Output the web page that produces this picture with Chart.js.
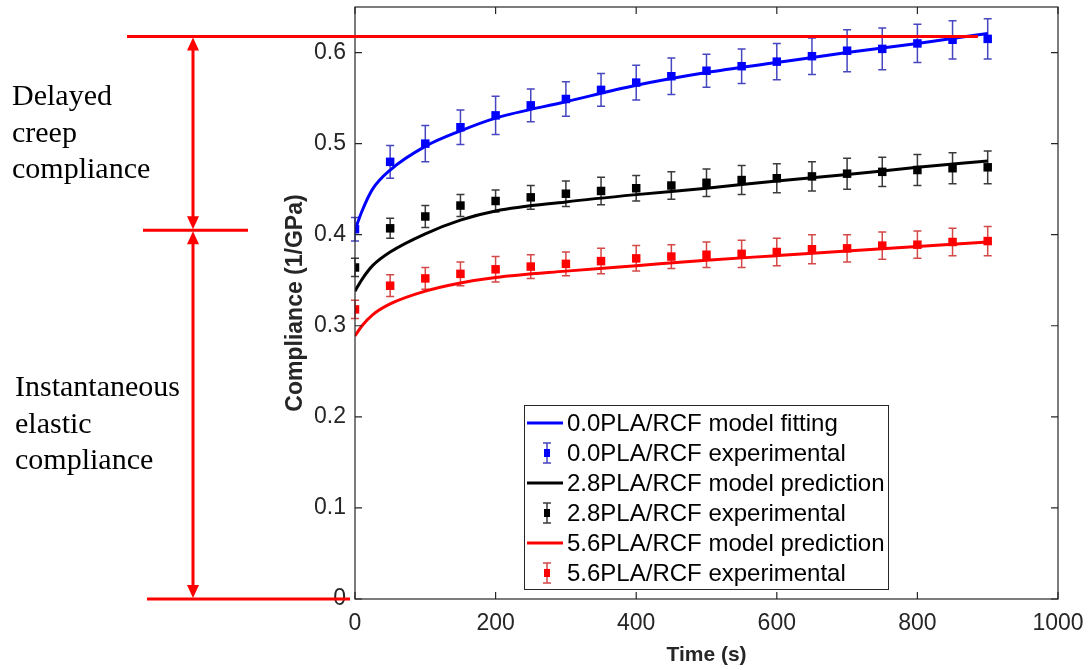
<!DOCTYPE html>
<html>
<head>
<meta charset="utf-8">
<script src="https://cdn.jsdelivr.net/npm/chart.js@4.4.1/dist/chart.umd.min.js"></script>
<style>
    body { margin: 0; background: #fff; }
    #wrap { width: 1089px; height: 670px; }
</style>
</head>
<body>
<div id="wrap"><canvas id="creepChart" width="1089" height="670"></canvas></div>
<script>
// Experimental time points (s)
const expTime = [0, 50, 100, 150, 200, 250, 300, 350, 400, 450, 500, 550, 600, 650, 700, 750, 800, 850, 900];

const blueExp = [0.406, 0.480, 0.500, 0.518, 0.531, 0.542, 0.549, 0.559, 0.567, 0.574, 0.580, 0.585, 0.590, 0.596, 0.602, 0.604, 0.610, 0.614, 0.615];
const blueErr = [0.013, 0.018, 0.020, 0.019, 0.021, 0.018, 0.019, 0.018, 0.019, 0.020, 0.018, 0.019, 0.020, 0.020, 0.023, 0.023, 0.021, 0.021, 0.022];
const blackExp = [0.364, 0.407, 0.420, 0.432, 0.437, 0.441, 0.445, 0.448, 0.451, 0.454, 0.457, 0.460, 0.462, 0.464, 0.467, 0.469, 0.471, 0.473, 0.474];
const blackErr = [0.010, 0.011, 0.012, 0.012, 0.012, 0.013, 0.014, 0.015, 0.014, 0.015, 0.015, 0.016, 0.016, 0.016, 0.017, 0.016, 0.017, 0.017, 0.018];
const redExp = [0.318, 0.344, 0.352, 0.357, 0.362, 0.365, 0.368, 0.371, 0.374, 0.376, 0.378, 0.379, 0.381, 0.384, 0.385, 0.388, 0.389, 0.392, 0.393];
const redErr = [0.010, 0.012, 0.012, 0.013, 0.014, 0.013, 0.013, 0.014, 0.014, 0.013, 0.014, 0.015, 0.015, 0.016, 0.015, 0.015, 0.015, 0.015, 0.016];

// Model curves
const modelTime = [0, 10, 25, 50, 100, 150, 200, 300, 400, 500, 600, 700, 800, 900];
const blueModel = [0.405, 0.426, 0.450, 0.471, 0.497, 0.514, 0.528, 0.546, 0.564, 0.578, 0.589, 0.600, 0.610, 0.621];
const blackModel = [0.338, 0.351, 0.366, 0.381, 0.401, 0.416, 0.426, 0.436, 0.444, 0.451, 0.459, 0.466, 0.474, 0.481];
const redModel = [0.289, 0.300, 0.312, 0.324, 0.338, 0.347, 0.353, 0.360, 0.366, 0.372, 0.377, 0.382, 0.387, 0.392];

const seriesLabels = [
    '0.0PLA/RCF model fitting', '0.0PLA/RCF experimental',
    '2.8PLA/RCF model prediction', '2.8PLA/RCF experimental',
    '5.6PLA/RCF model prediction', '5.6PLA/RCF experimental'
];

// Annotation levels on the compliance axis
const delayedTop = 0.6176;
const instantTop = 0.405;
const annotationEndTime = 886;

const axisColor = '#262626';

function pts(xs, ys) {
    return xs.map((x, i) => ({ x: x, y: ys[i] }));
}

function modelSet(label, ys, color) {
    return {
        label: label,
        data: pts(modelTime, ys),
        showLine: true,
        borderColor: color,
        borderWidth: 3,
        pointRadius: 0,
        cubicInterpolationMode: 'monotone',
        kind: 'line'
    };
}

function expSet(label, ys, errs, color, errColor) {
    return {
        label: label,
        data: pts(expTime, ys),
        errors: errs,
        errColor: errColor,
        showLine: false,
        pointStyle: 'rect',
        pointRadius: 6,
        backgroundColor: color,
        borderColor: color,
        borderWidth: 0,
        kind: 'err'
    };
}

// vertical error bars with caps
const errorBars = {
    id: 'errorBars',
    beforeDatasetsDraw(chart) {
        const ctx = chart.ctx;
        const ys = chart.scales.y;
        chart.data.datasets.forEach((ds, di) => {
            if (!ds.errors) return;
            const meta = chart.getDatasetMeta(di);
            ctx.save();
            ctx.strokeStyle = ds.errColor;
            ctx.lineWidth = 1.5;
            meta.data.forEach((pt, i) => {
                const v = ds.data[i].y;
                const top = ys.getPixelForValue(v + ds.errors[i]);
                const bot = ys.getPixelForValue(v - ds.errors[i]);
                ctx.beginPath();
                ctx.moveTo(pt.x, top); ctx.lineTo(pt.x, bot);
                ctx.moveTo(pt.x - 4, top); ctx.lineTo(pt.x + 4, top);
                ctx.moveTo(pt.x - 4, bot); ctx.lineTo(pt.x + 4, bot);
                ctx.stroke();
            });
            ctx.restore();
        });
    }
};

// MATLAB-like box with inward ticks
const axisBox = {
    id: 'axisBox',
    afterDatasetsDraw(chart) {
        const { ctx, chartArea: a, scales } = chart;
        ctx.save();
        ctx.strokeStyle = axisColor;
        ctx.lineWidth = 1.2;
        ctx.strokeRect(a.left, a.top, a.right - a.left, a.bottom - a.top);
        ctx.beginPath();
        scales.x.ticks.forEach(t => {
            const px = scales.x.getPixelForValue(t.value);
            ctx.moveTo(px, a.bottom); ctx.lineTo(px, a.bottom - 7);
            ctx.moveTo(px, a.top); ctx.lineTo(px, a.top + 7);
        });
        scales.y.ticks.forEach(t => {
            const py = scales.y.getPixelForValue(t.value);
            ctx.moveTo(a.left, py); ctx.lineTo(a.left + 7, py);
            ctx.moveTo(a.right, py); ctx.lineTo(a.right - 7, py);
        });
        ctx.stroke();
        ctx.restore();
    }
};

function arrowHead(ctx, x, y, dir) {
    // dir = -1 points up, 1 points down
    ctx.beginPath();
    ctx.moveTo(x, y);
    ctx.lineTo(x - 6, y - dir * 13);
    ctx.lineTo(x + 6, y - dir * 13);
    ctx.closePath();
    ctx.fill();
}

// red dimension lines and serif labels on the left
const annotations = {
    id: 'annotations',
    afterDraw(chart) {
        const { ctx, scales } = chart;
        const yTop = scales.y.getPixelForValue(delayedTop);
        const yMid = scales.y.getPixelForValue(instantTop);
        const yZero = scales.y.getPixelForValue(0);
        const xEnd = scales.x.getPixelForValue(annotationEndTime);
        const ax = 193;

        ctx.save();
        ctx.strokeStyle = '#ff0000';
        ctx.fillStyle = '#ff0000';
        ctx.lineWidth = 3;
        ctx.beginPath();
        ctx.moveTo(127, yTop); ctx.lineTo(xEnd, yTop);
        ctx.moveTo(143, yMid); ctx.lineTo(248, yMid);
        ctx.moveTo(147, yZero); ctx.lineTo(350, yZero);
        ctx.moveTo(ax, yTop + 10); ctx.lineTo(ax, yMid - 10);
        ctx.moveTo(ax, yMid + 10); ctx.lineTo(ax, yZero - 10);
        ctx.stroke();
        arrowHead(ctx, ax, yTop + 1, -1);
        arrowHead(ctx, ax, yMid - 1, 1);
        arrowHead(ctx, ax, yMid + 1, -1);
        arrowHead(ctx, ax, yZero - 1, 1);

        ctx.fillStyle = '#000';
        ctx.font = '30px "Liberation Serif", "Times New Roman", serif';
        ctx.textAlign = 'left';
        ctx.textBaseline = 'alphabetic';
        ['Delayed', 'creep', 'compliance'].forEach((s, i) => ctx.fillText(s, 12, 105 + i * 36.5));
        ['Instantaneous', 'elastic', 'compliance'].forEach((s, i) => ctx.fillText(s, 15, 396 + i * 36.5));
        ctx.restore();
    }
};

// legend with line and error-bar symbols
const boxLegend = {
    id: 'boxLegend',
    afterDraw(chart) {
        const { ctx, chartArea: a } = chart;
        const left = a.left + 169, top = a.top + 398;
        const w = 364, h = 184;
        ctx.save();
        ctx.fillStyle = '#fff';
        ctx.fillRect(left, top, w, h);
        ctx.strokeStyle = axisColor;
        ctx.lineWidth = 1;
        ctx.strokeRect(left + 0.5, top + 0.5, w, h);
        ctx.font = '24px "Liberation Sans", Arial, sans-serif';
        ctx.textBaseline = 'middle';
        chart.data.datasets.forEach((ds, i) => {
            const y = top + 18 + i * 30;
            if (ds.kind === 'line') {
                ctx.strokeStyle = ds.borderColor;
                ctx.lineWidth = 3;
                ctx.beginPath();
                ctx.moveTo(left + 3, y); ctx.lineTo(left + 39, y);
                ctx.stroke();
            } else {
                const cx = left + 23;
                ctx.strokeStyle = ds.errColor;
                ctx.lineWidth = 1.5;
                ctx.beginPath();
                ctx.moveTo(cx, y - 10); ctx.lineTo(cx, y + 10);
                ctx.moveTo(cx - 4, y - 10); ctx.lineTo(cx + 4, y - 10);
                ctx.moveTo(cx - 4, y + 10); ctx.lineTo(cx + 4, y + 10);
                ctx.stroke();
                ctx.fillStyle = ds.backgroundColor;
                ctx.fillRect(cx - 3, y - 4, 6, 8);
            }
            ctx.fillStyle = '#000';
            ctx.fillText(ds.label, left + 43, y + 1);
        });
        ctx.restore();
    }
};

const ctx = document.getElementById('creepChart').getContext('2d');
new Chart(ctx, {
    type: 'scatter',
    data: {
        datasets: [
            modelSet(seriesLabels[0], blueModel, '#0000ff'),
            expSet(seriesLabels[1], blueExp, blueErr, '#0000ff', '#4646c0'),
            modelSet(seriesLabels[2], blackModel, '#000000'),
            expSet(seriesLabels[3], blackExp, blackErr, '#000000', '#3a3a3a'),
            modelSet(seriesLabels[4], redModel, '#ff0000'),
            expSet(seriesLabels[5], redExp, redErr, '#ff0000', '#d44848')
        ]
    },
    options: {
        responsive: false,
        animation: false,
        layout: { autoPadding: false, padding: { left: 270, right: 31, top: 7, bottom: 0 } },
        plugins: {
            legend: { display: false },
            tooltip: { enabled: false }
        },
        scales: {
            x: {
                type: 'linear',
                min: 0,
                max: 1000,
                grid: { display: false, drawTicks: false },
                border: { display: false },
                ticks: {
                    stepSize: 200,
                    padding: 11,
                    color: axisColor,
                    font: { family: '"Liberation Sans", Arial, sans-serif', size: 23 },
                    callback: v => String(v)
                },
                title: {
                    display: true,
                    text: 'Time (s)',
                    color: axisColor,
                    padding: { top: 0, bottom: 2 },
                    font: { family: '"Liberation Sans", Arial, sans-serif', size: 21, weight: 'bold' }
                },
                afterFit(scale) {
                    scale.height = 71;
                    scale.paddingLeft = 0;
                    scale.paddingRight = 0;
                }
            },
            y: {
                type: 'linear',
                min: 0,
                max: 0.65,
                grid: { display: false, drawTicks: false },
                border: { display: false },
                ticks: {
                    stepSize: 0.1,
                    includeBounds: false,
                    padding: 9,
                    color: axisColor,
                    font: { family: '"Liberation Sans", Arial, sans-serif', size: 23 },
                    callback: v => String(+v.toFixed(1))
                },
                title: {
                    display: true,
                    text: 'Compliance (1/GPa)',
                    color: axisColor,
                    padding: { top: 12, bottom: 0 },
                    font: { family: '"Liberation Sans", Arial, sans-serif', size: 23, weight: 'bold' }
                },
                afterFit(scale) {
                    scale.width = 85;
                    scale.paddingTop = 0;
                    scale.paddingBottom = 0;
                }
            }
        }
    },
    plugins: [errorBars, axisBox, annotations, boxLegend]
});
</script>
</body>
</html>
